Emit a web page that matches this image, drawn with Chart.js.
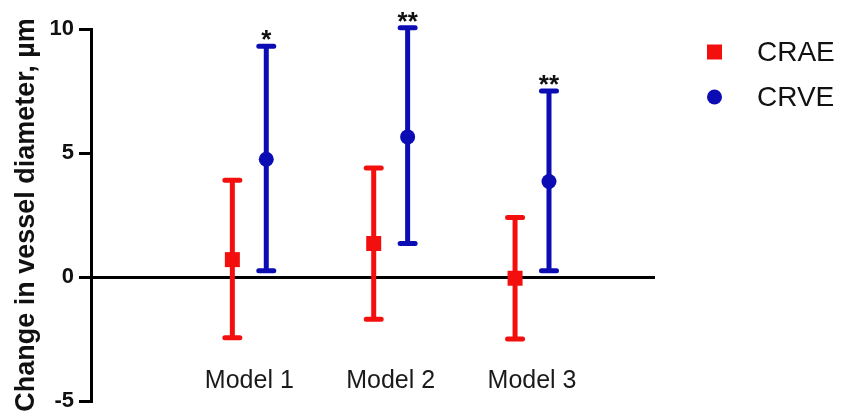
<!DOCTYPE html>
<html>
<head>
<meta charset="utf-8">
<script src="https://cdn.jsdelivr.net/npm/chart.js@4.4.1/dist/chart.umd.min.js"></script>
<style>
  html, body { margin: 0; padding: 0; background: #ffffff; }
  #wrap { width: 842px; height: 416px; }
</style>
</head>
<body>
<div id="wrap"><canvas id="c" width="842" height="416"></canvas></div>
<script>
// Change in retinal vessel diameter by model (mean with 95% CI)
const categories = ['Model 1', 'Model 2', 'Model 3'];
const seriesNames = ['CRAE', 'CRVE'];
const craeMean = [0.7, 1.35, -0.05];
const craeLow  = [-2.45, -1.7, -2.5];
const craeHigh = [3.9, 4.4, 2.4];
const crveMean = [4.75, 5.65, 3.85];
const crveLow  = [0.25, 1.35, 0.25];
const crveHigh = [9.3, 10.05, 7.5];
const crveSignificance = ['*', '**', '**'];
const yTicks = [-5, 0, 5, 10];
const yTitle = 'Change in vessel diameter, \u00b5m';

const FONT = "'Liberation Sans', Arial, Helvetica, sans-serif";
const RED = '#f40f0f';
const BLUE = '#0c0cb4';
const SHIFT = 0.12; // horizontal offset of each series within a model group

function points(means, dir) {
  return means.map((m, i) => ({ x: i + 1 + dir * SHIFT, y: m }));
}

const datasets = [
  {
    label: seriesNames[0],
    data: points(craeMean, -1),
    low: craeLow, high: craeHigh, marks: null,
    pointStyle: 'rect', pointRadius: 10.6, pointHoverRadius: 10.6,
    backgroundColor: RED, borderColor: RED, borderWidth: 0, showLine: false
  },
  {
    label: seriesNames[1],
    data: points(crveMean, 1),
    low: crveLow, high: crveHigh, marks: crveSignificance,
    pointStyle: 'circle', pointRadius: 7.5, pointHoverRadius: 7.5,
    backgroundColor: BLUE, borderColor: BLUE, borderWidth: 0, showLine: false
  }
];

// Error bars with caps, plus significance asterisks above the upper cap
const errorBars = {
  id: 'errorBars',
  beforeDatasetsDraw(chart) {
    const { ctx, scales: { x, y } } = chart;
    chart.data.datasets.forEach(ds => {
      ds.data.forEach((p, i) => {
        const px = x.getPixelForValue(p.x);
        const yl = y.getPixelForValue(ds.low[i]);
        const yh = y.getPixelForValue(ds.high[i]);
        ctx.save();
        ctx.strokeStyle = ds.borderColor;
        ctx.lineWidth = 5;
        ctx.lineCap = 'butt';
        ctx.beginPath();
        ctx.moveTo(px, yl);
        ctx.lineTo(px, yh);
        ctx.stroke();
        ctx.lineCap = 'round';
        ctx.beginPath();
        ctx.moveTo(px - 7.5, yl); ctx.lineTo(px + 7.5, yl);
        ctx.moveTo(px - 7.5, yh); ctx.lineTo(px + 7.5, yh);
        ctx.stroke();
        if (ds.marks && ds.marks[i]) {
          ctx.fillStyle = '#111111';
          ctx.font = 'bold 26px ' + FONT;
          ctx.textAlign = 'center';
          ctx.textBaseline = 'alphabetic';
          ctx.fillText(ds.marks[i], px, yh + 2);
        }
        ctx.restore();
      });
    });
  }
};

// Legend at the right: marker and series name
const sideLegend = {
  id: 'sideLegend',
  afterDraw(chart) {
    const { ctx } = chart;
    const mx = 714.5, tx = 757;
    const rows = [52, 97];
    chart.data.datasets.forEach((ds, i) => {
      const cy = rows[i];
      ctx.save();
      ctx.fillStyle = ds.backgroundColor;
      if (ds.pointStyle === 'rect') {
        ctx.fillRect(mx - 7.5, cy - 7.5, 15, 15);
      } else {
        ctx.beginPath();
        ctx.arc(mx, cy, 7.5, 0, Math.PI * 2);
        ctx.fill();
      }
      ctx.fillStyle = '#111111';
      ctx.font = '28px ' + FONT;
      ctx.textAlign = 'left';
      ctx.textBaseline = 'middle';
      ctx.fillText(ds.label, tx, cy + 1);
      ctx.restore();
    });
  }
};

new Chart(document.getElementById('c'), {
  type: 'scatter',
  data: { datasets },
  options: {
    responsive: false,
    devicePixelRatio: 1,
    animation: false,
    events: [],
    layout: { padding: { top: 29, bottom: 15, left: 0, right: 187 } },
    plugins: {
      legend: { display: false },
      tooltip: { enabled: false }
    },
    scales: {
      x: {
        type: 'linear',
        axis: 'x',
        min: -0.12,
        max: 3.87,
        position: { y: -3.55 },
        grid: { display: false, drawTicks: false },
        border: { display: false },
        afterBuildTicks(scale) {
          scale.ticks = categories.map((c, i) => ({ value: i + 1 }));
        },
        ticks: {
          autoSkip: false,
          maxRotation: 0,
          padding: 1,
          color: '#1a1a1a',
          font: { family: FONT, size: 25 },
          callback: v => categories[Math.round(v) - 1]
        }
      },
      y: {
        type: 'linear',
        min: -5,
        max: 10,
        afterBuildTicks(scale) {
          scale.ticks = yTicks.map(v => ({ value: v }));
        },
        afterFit(scale) {
          scale.width = 91;
          scale.paddingTop = 0;
          scale.paddingBottom = 0;
        },
        grid: {
          color: c => (c.tick && c.tick.value === 0) ? '#000000' : 'rgba(0,0,0,0)',
          lineWidth: 3,
          tickColor: '#000000',
          tickWidth: 3,
          tickLength: 12
        },
        border: { display: true, color: '#000000', width: 3 },
        ticks: {
          padding: 5,
          color: '#111111',
          font: { family: FONT, size: 22, weight: 'bold' }
        },
        title: {
          display: true,
          text: yTitle,
          color: '#111111',
          padding: { top: 10, bottom: 0 },
          font: { family: FONT, size: 27, weight: 'bold' }
        }
      }
    }
  },
  plugins: [errorBars, sideLegend]
});
</script>
</body>
</html>
